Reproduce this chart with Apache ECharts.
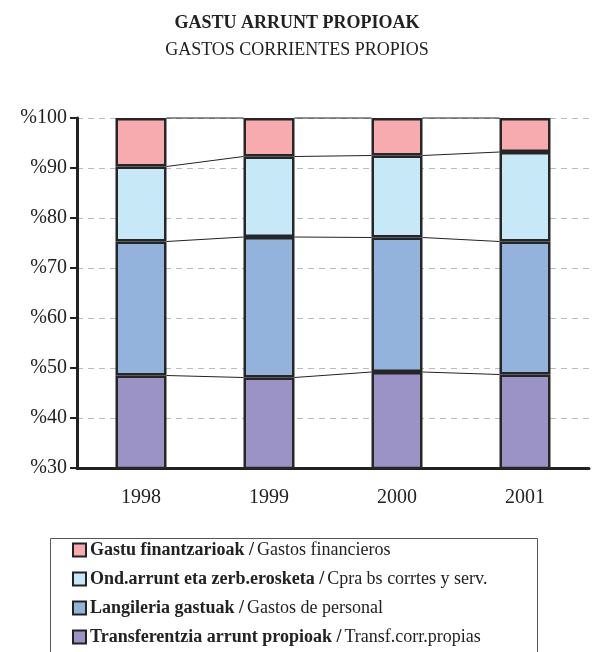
<!DOCTYPE html>
<html>
<head>
<meta charset="utf-8">
<script src="https://cdn.jsdelivr.net/npm/echarts@6/dist/echarts.min.js"></script>
<style>
  html, body { margin: 0; padding: 0; background: #fff; }
  #chart { width: 594px; height: 652px; }
</style>
</head>
<body>
<div id="chart"></div>
<script>
const years = ['1998', '1999', '2000', '2001'];
// segment shares (%), bottom to top
const transfer = [48.5, 48.1, 49.2, 48.7];
const personal = [26.8, 28.1, 26.9, 26.6];
const purchases = [15.0, 16.1, 16.4, 17.9];
const financial = [9.7, 7.7, 7.5, 6.8];
const yTicks = [30, 40, 50, 60, 70, 80, 90, 100];

const FONT = '"Liberation Serif", "DejaVu Serif", serif';
const BAR_W = 51;

const seriesDefs = [
  { key: 'financial', data: financial, color: '#F7ABAE', eu: 'Gastu finantzarioak', es: 'Gastos financieros' },
  { key: 'purchases', data: purchases, color: '#C6E8F7', eu: 'Ond.arrunt eta zerb.erosketa', es: 'Cpra bs corrtes y serv.' },
  { key: 'personal', data: personal, color: '#93B3DC', eu: 'Langileria gastuak', es: 'Gastos de personal' },
  { key: 'transfer', data: transfer, color: '#9B93C6', eu: 'Transferentzia arrunt propioak', es: 'Transf.corr.propias' }
];

// cumulative tops for the connector lines
const stackOrder = [transfer, personal, purchases, financial];
const connectors = [];
const running = years.map(() => 0);
stackOrder.forEach(arr => {
  arr.forEach((v, i) => { running[i] += v; });
  for (let i = 0; i < years.length - 1; i++) {
    connectors.push([i, running[i], running[i + 1]]);
  }
});

const chart = echarts.init(document.getElementById('chart'));

const barSeries = seriesDefs.slice().reverse().map(s => ({
  name: s.key,
  type: 'bar',
  stack: 'total',
  data: s.data,
  barWidth: BAR_W,
  itemStyle: { color: s.color, borderColor: '#262626', borderWidth: 2.5 },
  emphasis: { disabled: true },
  z: 3
}));

chart.setOption({
  animation: false,
  textStyle: { fontFamily: FONT },
  title: [
    {
      text: 'GASTU ARRUNT PROPIOAK',
      left: 'center', top: 9,
      textStyle: { fontFamily: FONT, fontSize: 18, fontWeight: 'bold', color: '#222' }
    },
    {
      text: 'GASTOS CORRIENTES PROPIOS',
      left: 'center', top: 36,
      textStyle: { fontFamily: FONT, fontSize: 18, fontWeight: 'normal', color: '#222' }
    }
  ],
  grid: { left: 77, right: 5, top: 118, bottom: 184 },
  xAxis: {
    type: 'category',
    data: years,
    axisLine: { lineStyle: { color: '#222', width: 3 } },
    axisTick: { length: 6, lineStyle: { color: '#666', width: 1 } },
    axisLabel: { fontFamily: FONT, fontSize: 20, color: '#222', margin: 20 }
  },
  yAxis: {
    type: 'value',
    min: 30, max: 100, interval: 10,
    axisLine: { show: true, lineStyle: { color: '#222', width: 3 } },
    axisTick: { show: true, length: 7, lineStyle: { color: '#222', width: 2 } },
    axisLabel: {
      fontFamily: FONT, fontSize: 20, color: '#222', margin: 10,
      formatter: v => yTicks.includes(v) ? '%' + v : ''
    },
    splitLine: { lineStyle: { color: '#bbb', type: [6, 5], width: 1 } }
  },
  legend: {
    orient: 'vertical',
    left: 72, top: 541,
    height: 200,
    padding: 0,
    icon: 'rect',
    itemWidth: 13, itemHeight: 13, itemGap: 11,
    data: seriesDefs.map(s => s.key),
    formatter: name => {
      const s = seriesDefs.find(d => d.key === name);
      return '{b|' + s.eu + ' /} {r|' + s.es + '}';
    },
    textStyle: {
      fontFamily: FONT,
      padding: [0, 0, 0, -1],
      rich: {
        b: { fontFamily: FONT, fontSize: 18, fontWeight: 'bold', color: '#222', lineHeight: 18 },
        r: { fontFamily: FONT, fontSize: 18, color: '#222', lineHeight: 18 }
      }
    },
    itemStyle: { borderColor: '#222', borderWidth: 2 },
    selectedMode: false
  },
  graphic: [
    {
      type: 'rect',
      shape: { x: 50.5, y: 538.5, width: 487, height: 200 },
      style: { fill: 'none', stroke: '#555', lineWidth: 1 },
      z: 0
    }
  ],
  series: [
    ...barSeries,
    {
      type: 'custom',
      data: connectors,
      silent: true,
      z: 4,
      renderItem: (params, api) => {
        const i = api.value(0);
        const p0 = api.coord([i, api.value(1)]);
        const p1 = api.coord([i + 1, api.value(2)]);
        return {
          type: 'line',
          shape: { x1: p0[0] + BAR_W / 2, y1: p0[1], x2: p1[0] - BAR_W / 2, y2: p1[1] },
          style: { stroke: '#222', lineWidth: 1 }
        };
      }
    }
  ]
});
</script>
</body>
</html>
